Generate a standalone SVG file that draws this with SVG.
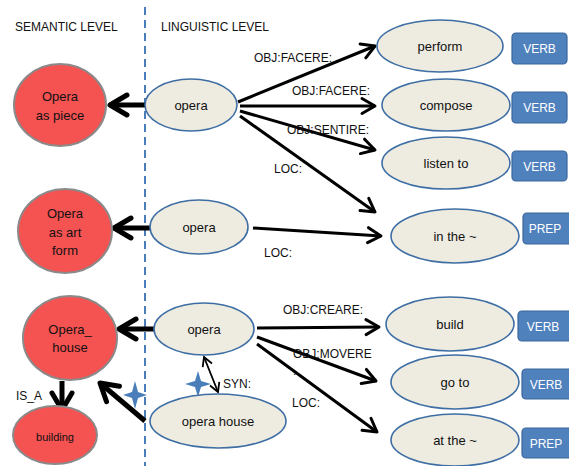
<svg xmlns="http://www.w3.org/2000/svg" width="569" height="466" viewBox="0 0 569 466">
<style>
text{font-family:"Liberation Sans",Arial,sans-serif;fill:#111;}
.lbl{font-size:12px;}
.nt{font-size:13px;text-anchor:middle;}
.sem{fill:#f55252;stroke:#8a8a8a;stroke-width:2;}
.lin{fill:#eeece1;stroke:#3e6ea4;stroke-width:1.6;}
.box{fill:#4f81bd;stroke:#3a679c;stroke-width:1.2;}
.bt{font-size:12px;fill:#fff;text-anchor:middle;}
.a1{stroke:#000;stroke-width:5;fill:none;marker-end:url(#big);}
.a2{stroke:#000;stroke-width:3;fill:none;marker-end:url(#small);}
</style>
<defs>
<marker id="big" markerUnits="userSpaceOnUse" viewBox="-24 -16 28 32" markerWidth="28" markerHeight="32" refX="0" refY="0" orient="auto">
<path d="M-17,-10 L0,0 L-17,10" fill="none" stroke="#000" stroke-width="5" stroke-linecap="round" stroke-linejoin="round"/>
</marker>
<marker id="small" markerUnits="userSpaceOnUse" viewBox="-18 -12 22 24" markerWidth="22" markerHeight="24" refX="0" refY="0" orient="auto">
<path d="M-13,-7.5 L0,0 L-13,7.5" fill="none" stroke="#000" stroke-width="3" stroke-linecap="round" stroke-linejoin="round"/>
</marker>
<marker id="thin" markerUnits="userSpaceOnUse" viewBox="-12 -7 14 14" markerWidth="14" markerHeight="14" refX="0" refY="0" orient="auto-start-reverse">
<path d="M-9,-5 L0,0 L-9,5" fill="none" stroke="#000" stroke-width="1.8"/>
</marker>
</defs>
<rect width="569" height="466" fill="#fff"/>
<line x1="145" y1="7" x2="145" y2="466" stroke="#4a7ebb" stroke-width="2" stroke-dasharray="8 5"/>
<text class="lbl" x="15" y="31">SEMANTIC LEVEL</text>
<text class="lbl" x="161" y="31">LINGUISTIC LEVEL</text>

<g id="connectors">
<line class="a1" x1="145" y1="105" x2="110" y2="105"/>
<line class="a1" x1="150" y1="228" x2="114" y2="228"/>
<line class="a1" x1="155" y1="329" x2="119" y2="329"/>
<line class="a1" x1="145" y1="421" x2="100" y2="383"/>
<line class="a1" x1="62" y1="381" x2="62" y2="410"/>
<line x1="204" y1="357" x2="218" y2="392" stroke="#000" stroke-width="1.8" marker-start="url(#thin)" marker-end="url(#thin)"/>
<line class="a2" x1="238" y1="102" x2="375" y2="46"/>
<line class="a2" x1="240" y1="106" x2="375" y2="106"/>
<line class="a2" x1="240" y1="111" x2="375" y2="150"/>
<line class="a2" x1="240" y1="116" x2="375" y2="212"/>
<line class="a2" x1="253" y1="228" x2="381" y2="236"/>
<line class="a2" x1="257" y1="328" x2="379" y2="327"/>
<line class="a2" x1="257" y1="337" x2="376" y2="381"/>
<line class="a2" x1="257" y1="344" x2="377" y2="432"/>
<path d="M135,381 L138,392 L147,395 L138,398 L135,409 L132,398 L123,395 L132,392 Z" fill="#4a7ebb"/>
<path d="M198,371 L201,381 L211,384 L201,387 L198,397 L195,387 L185,384 L195,381 Z" fill="#4a7ebb"/>
</g>

<g id="edge-labels">
<text class="lbl" x="254" y="62">OBJ:FACERE:</text>
<text class="lbl" x="292" y="95">OBJ:FACERE:</text>
<text class="lbl" x="287" y="134">OBJ:SENTIRE:</text>
<text class="lbl" x="274" y="173">LOC:</text>
<text class="lbl" x="264" y="257">LOC:</text>
<text class="lbl" x="283" y="314">OBJ:CREARE:</text>
<text class="lbl" x="293" y="358">OBJ:MOVERE</text>
<text class="lbl" x="293" y="375">.</text>
<text class="lbl" x="292" y="407">LOC:</text>
<text class="lbl" x="223" y="388">SYN:</text>
<text class="lbl" x="16" y="400">IS_A</text>
</g>

<g id="sem-piece"><ellipse class="sem" cx="60" cy="105" rx="46" ry="41"/><text class="nt" x="60" y="101">Opera</text><text class="nt" x="60" y="120">as piece</text></g>
<g id="sem-artform"><ellipse class="sem" cx="65" cy="231" rx="47" ry="42"/><text class="nt" x="65" y="218">Opera</text><text class="nt" x="65" y="237">as art</text><text class="nt" x="65" y="255">form</text></g>
<g id="sem-house"><ellipse class="sem" cx="70" cy="338" rx="47" ry="42"/><text class="nt" x="70" y="334">Opera_</text><text class="nt" x="70" y="352">house</text></g>
<g id="sem-building"><ellipse class="sem" cx="55" cy="435" rx="42" ry="29"/><text class="nt" x="55" y="441" style="font-size:11px">building</text></g>

<g id="opera1"><ellipse class="lin" cx="191" cy="105" rx="46" ry="26"/><text class="nt" x="191" y="110">opera</text></g>
<g id="opera2"><ellipse class="lin" cx="199" cy="227" rx="49" ry="27"/><text class="nt" x="199" y="232">opera</text></g>
<g id="opera3"><ellipse class="lin" cx="204" cy="329" rx="50" ry="26"/><text class="nt" x="204" y="334">opera</text></g>
<g id="operahouse"><ellipse class="lin" cx="218" cy="421" rx="68" ry="27"/><text class="nt" x="218" y="426">opera house</text></g>

<g id="perform"><ellipse class="lin" cx="440" cy="46" rx="63" ry="26"/><text class="nt" x="440" y="51">perform</text></g>
<g id="compose"><ellipse class="lin" cx="446" cy="105" rx="64" ry="26"/><text class="nt" x="446" y="110">compose</text></g>
<g id="listento"><ellipse class="lin" cx="446" cy="163" rx="64" ry="26"/><text class="nt" x="446" y="168">listen to</text></g>
<g id="inthe"><ellipse class="lin" cx="455" cy="236" rx="64" ry="27"/><text class="nt" x="455" y="241">in the ~</text></g>
<g id="build"><ellipse class="lin" cx="450" cy="324" rx="64" ry="27"/><text class="nt" x="450" y="329">build</text></g>
<g id="goto"><ellipse class="lin" cx="455" cy="382" rx="64" ry="27"/><text class="nt" x="455" y="387">go to</text></g>
<g id="atthe"><ellipse class="lin" cx="455" cy="440" rx="64" ry="26"/><text class="nt" x="455" y="445">at the ~</text></g>

<g id="verb1"><rect class="box" x="512" y="33" width="55" height="31" rx="4"/><text class="bt" x="539.5" y="53">VERB</text></g>
<g id="verb2"><rect class="box" x="512" y="92" width="55" height="31" rx="4"/><text class="bt" x="539.5" y="112">VERB</text></g>
<g id="verb3"><rect class="box" x="512" y="151" width="55" height="30" rx="4"/><text class="bt" x="539.5" y="171">VERB</text></g>
<g id="prep1"><rect class="box" x="523" y="213" width="50" height="31" rx="4"/><text class="bt" x="545" y="233">PREP</text></g>
<g id="verb4"><rect class="box" x="518" y="311" width="55" height="30" rx="4"/><text class="bt" x="543" y="331">VERB</text></g>
<g id="verb5"><rect class="box" x="522" y="369" width="50" height="30" rx="4"/><text class="bt" x="546" y="389">VERB</text></g>
<g id="prep2"><rect class="box" x="522" y="428" width="50" height="30" rx="4"/><text class="bt" x="546" y="448">PREP</text></g>
</svg>
